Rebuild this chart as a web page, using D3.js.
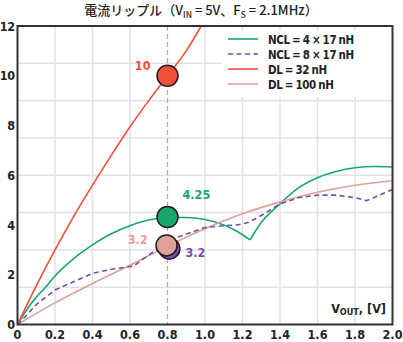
<!DOCTYPE html>
<html><head><meta charset="utf-8">
<script src="https://cdn.jsdelivr.net/npm/d3@7"></script>
<style>
body{margin:0;background:#fff;}
svg{display:block;}
.tick-lab{font-family:"Liberation Sans Narrow","DejaVu Sans Condensed","Roboto",sans-serif;font-weight:bold;font-size:12.5px;fill:#222;}
</style></head>
<body>
<svg id="chart" width="403" height="342"></svg>
<script>
// ---- data ----
const xTicks = [0, 0.2, 0.4, 0.6, 0.8, 1.0, 1.2, 1.4, 1.6, 1.8, 2.0];
const xTickLabels = ["0","0.2","0.4","0.6","0.8","1.0","1.2","1.4","1.6","1.8","2.0"];
const yTicks = [0, 2, 4, 6, 8, 10, 12];
const yGrid = [1.5, 3, 4.5, 6, 7.5, 9, 10.5];
const xGrid = [0.2, 0.4, 0.6, 1.0, 1.2, 1.4, 1.6, 1.8];

const ncl4X = [0, 0.05, 0.1, 0.15, 0.2, 0.3, 0.4, 0.5, 0.6, 0.7, 0.8, 0.9, 1.0, 1.1, 1.17, 1.24, 1.3, 1.4, 1.5, 1.6, 1.7, 1.8, 1.9, 2.0];
const ncl4Y = [0, 0.6, 1.1, 1.5, 1.95, 2.65, 3.2, 3.65, 3.97, 4.2, 4.3, 4.3, 4.22, 4.0, 3.75, 3.4, 4.1, 4.85, 5.5, 5.9, 6.15, 6.3, 6.35, 6.33];
const ncl8X = [0, 0.05, 0.1, 0.2, 0.3, 0.4, 0.5, 0.62, 0.7, 0.75, 0.8, 0.85, 1.0, 1.1, 1.17, 1.23, 1.3, 1.4, 1.5, 1.6, 1.7, 1.8, 1.86, 1.9, 2.0];
const ncl8Y = [0, 0.38, 0.8, 1.39, 1.72, 2.06, 2.22, 2.35, 2.79, 3.06, 3.25, 3.5, 3.9, 3.97, 4.0, 4.1, 4.38, 4.85, 5.1, 5.2, 5.2, 5.1, 4.98, 5.1, 5.43];
const dl32X = [0, 0.1, 0.2, 0.3, 0.4, 0.5, 0.6, 0.7, 0.8, 0.9, 0.98];
const dl32Y = [0, 1.55, 3.0, 4.35, 5.6, 6.8, 7.95, 9.0, 10.0, 11.0, 12.0];
const dl100X = [0, 0.2, 0.4, 0.6, 0.8, 1.0, 1.2, 1.4, 1.6, 1.8, 2.0];
const dl100Y = [0, 0.87, 1.65, 2.38, 3.15, 3.85, 4.45, 4.93, 5.32, 5.6, 5.78];

const seriesNames = ["NCL = 4 × 17 nH", "NCL = 8 × 17 nH", "DL = 32 nH", "DL = 100 nH"];
const seriesColors = ["#17a86c", "#7a4ca8", "#f2503a", "#dea09b"];

const markerNames = ["DL = 32 nH", "NCL = 4 × 17 nH", "NCL = 8 × 17 nH", "DL = 100 nH"];
const markerX = [0.8, 0.8, 0.81, 0.795];
const markerY = [10.0, 4.32, 3.05, 3.18];
const markerLabels = ["10", "4.25", "3.2", "3.2"];
const markerColors = ["#f2503a", "#17a86c", "#7a4ca8", "#dea09b"];
const markerLabelColors = ["#f2503a", "#17a86c", "#7a4ca8", "#dea09b"];
const refX = 0.8;

// ---- layout ----
const svg = d3.select("#chart");
const x = d3.scaleLinear().domain([0, 2]).range([17.5, 392.5]);
const y = d3.scaleLinear().domain([0, 12]).range([324.5, 26]);
const gridColor = "#e1e0e8";

// grid
svg.append("g").selectAll("line").data(yGrid).join("line")
  .attr("x1", x(0)).attr("x2", x(2)).attr("y1", d => y(d)).attr("y2", d => y(d))
  .attr("stroke", gridColor).attr("stroke-width", 1.5);
svg.append("g").selectAll("line").data(xGrid).join("line")
  .attr("x1", d => x(d)).attr("x2", d => x(d)).attr("y1", y(0)).attr("y2", y(12))
  .attr("stroke", gridColor).attr("stroke-width", 1.5);

// reference dashed line
svg.append("line").attr("x1", x(refX)).attr("x2", x(refX)).attr("y1", y(12)).attr("y2", y(0))
  .attr("stroke", "#e09a96").attr("stroke-width", 1.2).attr("stroke-dasharray", "5,3");

// legend background
svg.append("rect").attr("x", 221).attr("y", 31).attr("width", 171).attr("height", 66).attr("fill", "#fff");

// curves
const zip = (xs, ys) => xs.map((v, i) => ({x: v, y: ys[i]}));
const lineSmooth = d3.line().x(d => x(d.x)).y(d => y(d.y)).curve(d3.curveMonotoneX);
const lineLin = d3.line().x(d => x(d.x)).y(d => y(d.y)).curve(d3.curveLinear);

const ncl4 = zip(ncl4X, ncl4Y);
const cusp = 1.24;
svg.append("path").attr("d", lineSmooth(ncl4.filter(d => d.x <= cusp)))
  .attr("fill", "none").attr("stroke", seriesColors[0]).attr("stroke-width", 1.6);
svg.append("path").attr("d", lineSmooth(ncl4.filter(d => d.x >= cusp)))
  .attr("fill", "none").attr("stroke", seriesColors[0]).attr("stroke-width", 1.6);

svg.append("path").attr("d", lineSmooth(zip(dl100X, dl100Y)))
  .attr("fill", "none").attr("stroke", seriesColors[3]).attr("stroke-width", 1.6);

svg.append("path").attr("d", lineLin(zip(ncl8X, ncl8Y)))
  .attr("fill", "none").attr("stroke", seriesColors[1]).attr("stroke-width", 1.6)
  .attr("stroke-dasharray", "5,3.5");

svg.append("path").attr("d", lineSmooth(zip(dl32X, dl32Y)))
  .attr("fill", "none").attr("stroke", seriesColors[2]).attr("stroke-width", 1.6);

// markers (purple before pink so pink sits on top)
const order = [0, 1, 2, 3];
svg.append("g").selectAll("circle").data(order).join("circle")
  .attr("cx", i => x(markerX[i])).attr("cy", i => y(markerY[i])).attr("r", 10.5)
  .attr("fill", i => markerColors[i]).attr("stroke", "#1e1e1e").attr("stroke-width", 1.5);

// marker labels
const lblFont = '"Liberation Sans Narrow","DejaVu Sans Condensed",Roboto,sans-serif';
const lblDx = [-17, 15, 16, -19];
const lblDy = [-6, -18, 8, -1];
const lblAnchor = ["end", "start", "start", "end"];
svg.append("g").selectAll("text").data(order).join("text")
  .attr("x", i => x(markerX[i]) + lblDx[i]).attr("y", i => y(markerY[i]) + lblDy[i])
  .attr("text-anchor", i => lblAnchor[i])
  .attr("font-family", lblFont).attr("font-weight", "bold").attr("font-size", 12.5)
  .attr("fill", i => markerLabelColors[i]).text(i => markerLabels[i]);

// legend
const lg = svg.append("g");
seriesNames.forEach((name, i) => {
  const yy = 39 + i * 15;
  lg.append("line").attr("x1", 228).attr("x2", 258).attr("y1", yy).attr("y2", yy)
    .attr("stroke", seriesColors[i]).attr("stroke-width", 1.6)
    .attr("stroke-dasharray", i === 1 ? "5,3.5" : null);
  lg.append("text").attr("x", 268).attr("y", yy + 4.5)
    .attr("font-family", lblFont).attr("font-weight", "bold").attr("font-size", 11.5)
    .attr("letter-spacing", -0.4).attr("word-spacing", -0.8)
    .attr("fill", "#222").text(name);
});

// frame
svg.append("rect").attr("x", x(0)).attr("y", y(12)).attr("width", x(2) - x(0)).attr("height", y(0) - y(12))
  .attr("fill", "none").attr("stroke", "#333").attr("stroke-width", 2);

// tick labels
svg.append("g").selectAll("text").data(xTicks).join("text").attr("class", "tick-lab")
  .attr("x", d => x(d)).attr("y", 339).attr("text-anchor", "middle")
  .text((d, i) => xTickLabels[i]);
svg.append("g").selectAll("text").data(yTicks).join("text").attr("class", "tick-lab")
  .attr("x", 14.5).attr("y", d => y(d) + 4.5).attr("text-anchor", "end")
  .attr("font-size", 11).attr("letter-spacing", -0.5)
  .text(d => d);

// axis label
const xl = svg.append("text").attr("x", 386).attr("y", 313).attr("text-anchor", "end")
  .attr("font-family", lblFont).attr("font-weight", "bold").attr("font-size", 12.5).attr("fill", "#222");
xl.append("tspan").text("V");
xl.append("tspan").attr("font-size", 9).attr("dy", 2).text("OUT");
xl.append("tspan").attr("dy", -2).text(", [V]");

// title
const t = svg.append("text").attr("x", 201).attr("y", 15).attr("text-anchor", "middle")
  .attr("font-family", '"Noto Sans CJK JP","Noto Sans",sans-serif').attr("font-size", 13)
  .attr("font-weight", 500).attr("fill", "#222");
t.append("tspan").text("電流リップル（V");
t.append("tspan").attr("font-size", 8.5).attr("dy", 3).text("IN");
t.append("tspan").attr("dy", -3).text(" = 5V、F");
t.append("tspan").attr("font-size", 8.5).attr("dy", 3).text("S");
t.append("tspan").attr("dy", -3).text(" = 2.1MHz）");
</script>
</body></html>
